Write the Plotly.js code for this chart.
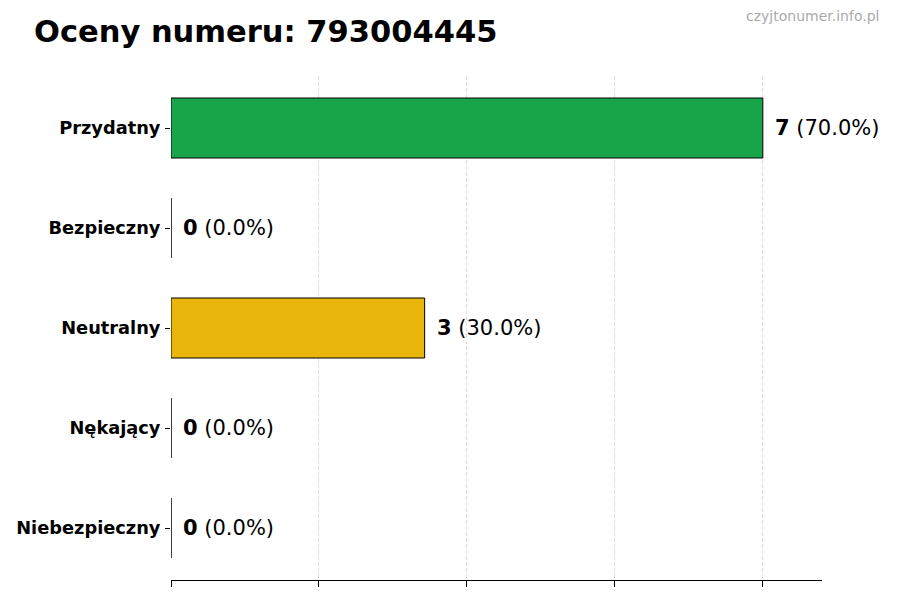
<!DOCTYPE html>
<html>
<head>
<meta charset="utf-8">
<script src="https://cdn.plot.ly/plotly-3.0.1.min.js"></script>
<style>
  html, body { margin: 0; padding: 0; background: #fff; }
  #chart { width: 900px; height: 600px; }
</style>
</head>
<body>
<div id="chart"></div>
<script>
var categories = ['Przydatny', 'Bezpieczny', 'Neutralny', 'Nękający', 'Niebezpieczny'];
var counts = [7, 0, 3, 0, 0];
var barColors = ['#18a54a', '#2e86de', '#e8b50a', '#e67e22', '#d63031'];
var tickVals = [0, 1.75, 3.5, 5.25, 7];

var total = counts.reduce(function (a, b) { return a + b; }, 0);

var data = [{
    type: 'bar',
    orientation: 'h',
    x: counts,
    y: categories,
    width: 0.6,
    marker: { color: barColors, line: { color: '#000', width: 1 } },
    hoverinfo: 'none'
}];

var annotations = categories.map(function (c, i) {
    var pct = (counts[i] / total * 100).toFixed(1);
    return {
        x: counts[i], y: c, xref: 'x', yref: 'y',
        xanchor: 'left', yanchor: 'middle', xshift: 10,
        showarrow: false,
        text: '<b>' + counts[i] + '</b> (' + pct + '%)',
        font: { family: 'DejaVu Sans', size: 21, color: '#000' }
    };
});

annotations.push({
    xref: 'paper', yref: 'paper', x: 1.0906, y: 1.12,
    xanchor: 'right', yanchor: 'middle', showarrow: false,
    text: 'czyjtonumer.info.pl',
    font: { family: 'DejaVu Sans', size: 14, color: '#aaaaaa' }
});

var layout = {
    width: 900, height: 600,
    margin: { l: 171, r: 78, t: 76, b: 20 },
    paper_bgcolor: '#fff', plot_bgcolor: '#fff',
    showlegend: false,
    title: {
        text: '<b>Oceny numeru: 793004445</b>',
        x: 34 / 900, xanchor: 'left', xref: 'container',
        y: 1 - 31 / 600, yanchor: 'middle', yref: 'container',
        font: { family: 'DejaVu Sans', size: 30.5, color: '#000' }
    },
    xaxis: {
        range: [0, 7.7],
        tickvals: tickVals, showticklabels: false,
        ticks: 'outside', ticklen: 6, tickcolor: '#000',
        showgrid: true, gridcolor: '#dedede', griddash: '4px,2px', gridwidth: 1,
        showline: true, linecolor: '#000', linewidth: 1,
        zeroline: false, fixedrange: true
    },
    yaxis: {
        type: 'category',
        range: [4.52, -0.52],
        ticks: 'outside', ticklen: 5, tickcolor: '#000',
        ticklabelstandoff: 1,
        tickfont: { family: 'DejaVu Sans', size: 17.8, color: '#000', weight: 'bold' },
        showline: false, showgrid: false, zeroline: false, fixedrange: true
    },
    annotations: annotations
};

Plotly.newPlot('chart', data, layout, { displayModeBar: false, staticPlot: true });
</script>
</body>
</html>
